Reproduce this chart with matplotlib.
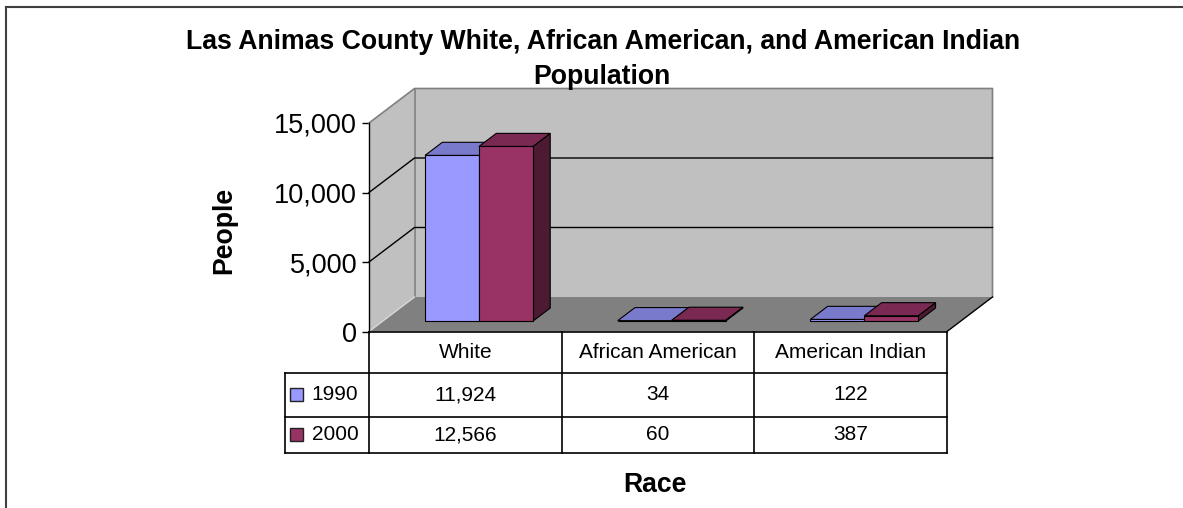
import matplotlib
matplotlib.use('Agg')
import matplotlib.pyplot as plt
from matplotlib.patches import Polygon, Rectangle
from matplotlib.lines import Line2D
from matplotlib.transforms import IdentityTransform
from matplotlib.ticker import FuncFormatter

plt.rcParams['font.family'] = ['Liberation Sans', 'DejaVu Sans']

# datos
categories = ['White', 'African American', 'American Indian']
years = ['1990', '2000']
pop_1990 = [11924, 34, 122]
pop_2000 = [12566, 60, 387]
y_ticks = [0, 5000, 10000, 15000]
title_1 = 'Las Animas County White, African American, and American Indian'
title_2 = 'Population'

series = [pop_1990, pop_2000]
colors = ['#9999FF', '#993366']
bold_font = dict(fontweight='bold', fontsize=19.2)

W, H = 1183, 508
fig = plt.figure(figsize=(W / 100, H / 100), dpi=100)

# caja frontal del grafico en pixeles
x0, x1 = 369, 947
y0, y1 = 331.5, 123
ax = fig.add_axes([x0 / W, 1 - y0 / H, (x1 - x0) / W, (y0 - y1) / H])
ax.set_xlim(0, len(categories))
ax.set_ylim(0, y_ticks[-1])
ax.patch.set_visible(False)

DX, DY = 45.5, 34.5   # desplazamiento de profundidad (pixeles)
D0, D1 = 0.3, 0.68    # profundidad de las barras
BW = 0.28             # ancho de barra (unidades de categoria)


def P(x, v, d):
    px, py = ax.transData.transform((x, v))
    return (px + d * DX, py + d * DY)


def poly(pts, fc, ec='none', lw=0.8, z=1):
    p = Polygon(pts, closed=True, facecolor=fc, edgecolor=ec, linewidth=lw,
                transform=IdentityTransform(), clip_on=False, zorder=z)
    ax.add_patch(p)


def line(pts, color, lw=1.0, z=2):
    xs = [p[0] for p in pts]
    ys = [p[1] for p in pts]
    ax.add_line(Line2D(xs, ys, color=color, linewidth=lw,
                       transform=IdentityTransform(), clip_on=False, zorder=z))


def shade(c, f):
    r, g, b = matplotlib.colors.to_rgb(c)
    return (r * f, g * f, b * f)


n = len(categories)
top = y_ticks[-1]

# paredes y piso
poly([P(0, 0, 0), P(0, top, 0), P(0, top, 1), P(0, 0, 1)], '#c0c0c0')
poly([P(0, 0, 1), P(n, 0, 1), P(n, top, 1), P(0, top, 1)], '#c0c0c0')
poly([P(0, 0, 0), P(n, 0, 0), P(n, 0, 1), P(0, 0, 1)], '#808080')
line([P(0, top, 0), P(0, top, 1), P(n, top, 1), P(n, 0, 1)], '#808080', 1.2)
line([P(0, top, 1), P(0, 0, 1)], '#808080', 1.2)
line([P(0, 0, 0), P(0, 0, 1)], '#d8d8d8', 1.0)
line([P(n, 0, 0), P(n, 0, 1)], 'black', 1.0)
for t in y_ticks[1:-1]:
    line([P(0, t, 0), P(0, t, 1), P(n, t, 1)], 'black', 1.0)

# barras 3D
for i in range(n):
    for j, vals in enumerate(series):
        v = vals[i]
        xl = i + 0.5 - BW + j * BW
        xr = xl + BW
        c = colors[j]
        poly([P(xr, 0, D0), P(xr, 0, D1), P(xr, v, D1), P(xr, v, D0)],
             shade(c, 0.5), 'black', 0.8, 3)
        poly([P(xl, v, D0), P(xr, v, D0), P(xr, v, D1), P(xl, v, D1)],
             shade(c, 0.8), 'black', 0.8, 3)
        poly([P(xl, 0, D0), P(xr, 0, D0), P(xr, v, D0), P(xl, v, D0)],
             c, 'black', 0.8, 3)

# eje y
for s in ['top', 'right', 'bottom']:
    ax.spines[s].set_visible(False)
ax.spines['left'].set_linewidth(1.0)
ax.set_xticks([])
ax.set_yticks(y_ticks)
ax.yaxis.set_major_formatter(FuncFormatter(lambda v, p: f'{int(v):,}'))
ax.tick_params(axis='y', direction='out', length=5, width=1.0, pad=3.5,
               labelsize=19.5)
ax.set_ylabel('People', **bold_font)
ax.yaxis.set_label_coords((237 - x0) / (x1 - x0), (y0 - 230) / (y0 - y1))

# tabla de datos
rows = [y0, 373, 416.5, 453]
leg_x = 285
cols = [ax.transData.transform((k, 0))[0] for k in range(n + 1)]


def fx(px):
    return px / W


def fy(py):
    return 1 - py / H


def fline(xs, ys, color='black', lw=1.2):
    fig.add_artist(Line2D([fx(x) for x in xs], [fy(y) for y in ys],
                          color=color, linewidth=lw, transform=fig.transFigure))


fline([cols[0], cols[-1]], [rows[0], rows[0]])
for r in rows[1:]:
    fline([leg_x, cols[-1]], [r, r])
for c in cols:
    fline([c, c], [rows[0], rows[-1]])
fline([leg_x, leg_x], [rows[1], rows[-1]])

for k, cat in enumerate(categories):
    fig.text(fx((cols[k] + cols[k + 1]) / 2), fy((rows[0] + rows[1]) / 2), cat,
             ha='center', va='center', fontsize=15)
    for j, vals in enumerate(series):
        fig.text(fx((cols[k] + cols[k + 1]) / 2), fy((rows[j + 1] + rows[j + 2]) / 2),
                 f'{vals[k]:,}', ha='center', va='center', fontsize=15)

for j, yr in enumerate(years):
    cy = (rows[j + 1] + rows[j + 2]) / 2
    fig.add_artist(Rectangle((fx(290), fy(cy + 6.5)), 13 / W, 13 / H,
                             facecolor=colors[j], edgecolor='#222222', linewidth=1.0,
                             transform=fig.transFigure))
    fig.text(fx(335), fy(cy), yr, ha='center', va='center', fontsize=15)

# titulos
fig.text(fx(603.5), fy(49), title_1, ha='center', va='baseline', **bold_font)
fig.text(fx(601.5), fy(84), title_2, ha='center', va='baseline', **bold_font)
fig.text(fx(655), fy(485), 'Race', ha='center', va='center', **bold_font)

# marco
fig.add_artist(Line2D([fx(6), fx(W)], [fy(7), fy(7)], color='#404040', linewidth=1.5,
                      transform=fig.transFigure))
fig.add_artist(Line2D([fx(6), fx(6)], [fy(7), fy(H)], color='#404040', linewidth=1.5,
                      transform=fig.transFigure))

fig.savefig('out.png', dpi=100)
